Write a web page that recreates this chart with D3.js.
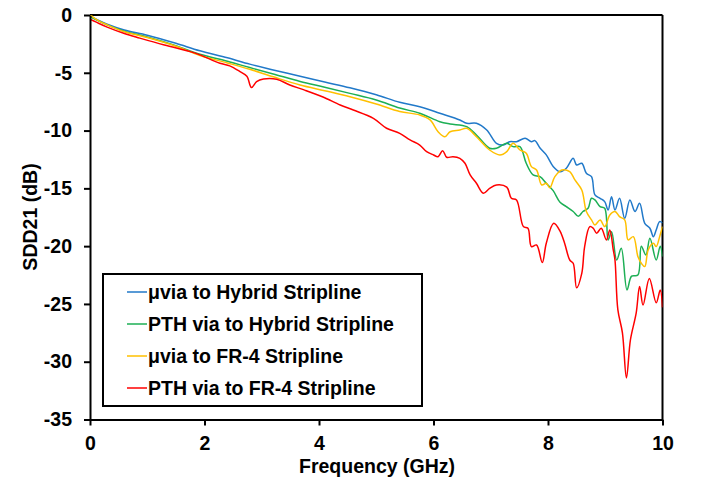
<!DOCTYPE html>
<html><head><meta charset="utf-8">
<script src="https://cdn.jsdelivr.net/npm/d3@7"></script>
<style>body{margin:0;background:#fff}svg{display:block}text{font-family:"Liberation Sans",Arial,sans-serif;font-weight:bold}</style>
</head><body><svg id="c" width="702" height="483"></svg>
<script>
const seriesNames = ["μvia to Hybrid Stripline","PTH via to Hybrid Stripline","μvia to FR-4 Stripline","PTH via to FR-4 Stripline"];
const seriesColors = ["#2179C9","#1DAF55","#FFC000","#FF0000"];
const xTicks = [0,2,4,6,8,10];
const yTicks = [0,-5,-10,-15,-20,-25,-30,-35];

const freqBlue = [0,0.1,0.3,0.6,1,1.5,1.92,2.4,2.79,3.2,3.67,4.1,4.54,5.0,5.41,5.76,6.11,6.46,6.58,6.75,6.93,7.10,7.22,7.33,7.45,7.60,7.71,7.77,7.86,7.97,8.09,8.21,8.32,8.44,8.50,8.59,8.67,8.76,8.82,8.91,8.99,9.05,9.11,9.17,9.25,9.34,9.43,9.52,9.60,9.69,9.78,9.84,9.89,9.95,10];
const sddBlue  = [-0.1,-0.35,-0.8,-1.3,-1.75,-2.45,-3.1,-3.7,-4.25,-4.75,-5.3,-5.8,-6.3,-6.9,-7.55,-7.94,-8.5,-9.08,-9.37,-9.37,-9.95,-11.1,-11.25,-10.96,-10.96,-10.67,-10.96,-10.87,-11.5,-12.1,-13.1,-13.56,-13.26,-12.4,-12.98,-12.83,-13.7,-13.99,-15.57,-15.86,-16.15,-16.87,-15.72,-16.87,-15.86,-17.59,-16.0,-17.0,-16.29,-18.02,-18.45,-19.18,-18.6,-17.88,-18.0];

const freqGreen = [0,0.1,0.3,0.6,1,1.5,1.92,2.4,2.79,3.2,3.67,4.1,4.54,5.0,5.41,5.76,6.11,6.29,6.58,6.75,6.98,7.10,7.28,7.39,7.51,7.62,7.74,7.86,7.97,8.09,8.21,8.32,8.44,8.53,8.61,8.70,8.76,8.82,8.91,8.99,9.05,9.11,9.20,9.28,9.38,9.46,9.57,9.63,9.71,9.78,9.89,9.96,10];
const sddGreen  = [-0.15,-0.4,-0.85,-1.4,-1.9,-2.65,-3.4,-4.0,-4.55,-5.1,-5.75,-6.25,-6.78,-7.35,-8.05,-8.5,-9.23,-9.43,-9.66,-10.38,-11.53,-11.53,-11.1,-11.39,-11.39,-12.83,-13.84,-13.99,-14.56,-15.2,-16.2,-16.58,-17.0,-17.42,-17.0,-16.72,-15.86,-16.0,-16.58,-16.72,-19.46,-18.75,-21.2,-20.18,-23.79,-22.6,-22.5,-20.0,-20.76,-19.32,-21.2,-20.0,-20.9];

const freqYellow = [0,0.1,0.3,0.6,1,1.5,1.92,2.4,2.79,3.2,3.67,4.1,4.54,5.0,5.41,5.76,5.94,6.08,6.20,6.29,6.46,6.58,6.75,6.98,7.16,7.28,7.39,7.51,7.62,7.71,7.80,7.89,7.97,8.03,8.12,8.24,8.38,8.47,8.59,8.67,8.76,8.82,8.91,8.99,9.08,9.17,9.25,9.34,9.40,9.49,9.57,9.63,9.69,9.75,9.84,9.89,9.95,10];
const sddYellow  = [0.05,-0.35,-0.85,-1.45,-1.95,-2.7,-3.5,-4.15,-4.7,-5.35,-6.06,-6.55,-7.07,-7.7,-8.35,-8.65,-9.08,-10.1,-10.53,-10.1,-9.95,-9.8,-10.53,-11.68,-12.11,-11.82,-11.1,-11.68,-11.96,-13.12,-13.41,-14.71,-14.56,-14.95,-13.99,-13.41,-13.56,-14.27,-15.14,-17.0,-17.73,-18.17,-17.73,-18.31,-17.3,-17.0,-17.45,-17.73,-19.46,-19.18,-20.9,-21.48,-21.77,-20.33,-19.75,-20.04,-19.18,-18.3];

const freqRed = [0,0.1,0.3,0.6,0.87,1.3,1.75,1.92,2.27,2.44,2.62,2.74,2.82,2.91,3.03,3.26,3.49,3.75,4.07,4.37,4.6,4.95,5.18,5.41,5.59,5.76,5.88,6.0,6.08,6.16,6.23,6.34,6.46,6.55,6.64,6.75,6.87,6.98,7.10,7.28,7.36,7.45,7.57,7.65,7.71,7.80,7.90,7.97,8.10,8.21,8.29,8.38,8.44,8.50,8.59,8.64,8.73,8.79,8.85,8.93,9.02,9.08,9.14,9.17,9.22,9.30,9.37,9.44,9.54,9.60,9.66,9.77,9.89,9.96,10];
const sddRed  = [-0.37,-0.6,-1.05,-1.6,-2.0,-2.6,-3.17,-3.45,-4.18,-4.4,-4.9,-5.3,-6.28,-5.77,-5.54,-5.56,-6.06,-6.5,-7.1,-7.79,-8.22,-8.94,-9.8,-10.24,-10.81,-11.25,-11.82,-12.11,-12.26,-11.74,-12.31,-12.26,-12.40,-12.83,-13.84,-14.56,-15.42,-15.0,-14.71,-14.9,-15.86,-16.0,-18.31,-18.45,-20.04,-19.9,-21.42,-19.75,-18.02,-18.7,-19.75,-21.2,-21.48,-23.6,-22.35,-20.04,-18.31,-18.45,-18.88,-18.45,-19.46,-18.6,-20.33,-21.2,-25.5,-27.5,-31.4,-28.1,-25.8,-23.5,-25.1,-22.8,-24.9,-23.8,-25.3];

const series = [[freqBlue,sddBlue],[freqGreen,sddGreen],[freqYellow,sddYellow],[freqRed,sddRed]];

const FONT = "19.5px";
const svg = d3.select("#c");
const L=90, R=662.5, T=15, B=419.5;
const x = d3.scaleLinear().domain([0,10]).range([L,R]);
const y = d3.scaleLinear().domain([-35,0]).range([B,T]);

svg.append("line").attr("x1",L).attr("x2",R).attr("y1",T).attr("y2",T).attr("stroke","#000").attr("stroke-width",2);
svg.append("line").attr("x1",R).attr("x2",R).attr("y1",T).attr("y2",B).attr("stroke","#000").attr("stroke-width",2);

svg.append("clipPath").attr("id","pc").append("rect").attr("x",L).attr("y",T).attr("width",R-L).attr("height",B-T);
const line = d3.line().curve(d3.curveCatmullRom.alpha(0.5)).x(d=>x(d[0])).y(d=>y(d[1]));
const gLines = svg.append("g").attr("clip-path","url(#pc)");
series.forEach((s,i)=>{
  const pts = s[0].map((f,j)=>[f,s[1][j]]);
  gLines.append("path").datum(pts).attr("d",line).attr("fill","none").attr("stroke",seriesColors[i]).attr("stroke-width",1.5);
});

const xAxis = svg.append("g").attr("transform",`translate(0,${B})`).call(d3.axisBottom(x).tickValues(xTicks).tickSize(6).tickSizeOuter(0).tickPadding(11).tickFormat(d3.format("d")));
const yAxis = svg.append("g").attr("transform",`translate(${L},0)`).call(d3.axisLeft(y).tickValues(yTicks).tickSize(6).tickSizeOuter(0).tickPadding(12).tickFormat(d3.format("d")));
[xAxis,yAxis].forEach(a=>{
  a.select(".domain").attr("stroke","#000").attr("stroke-width",2);
  a.selectAll(".tick line").attr("stroke","#000").attr("stroke-width",2);
  a.selectAll("text").attr("fill","#000").style("font-size",FONT).style("font-family","'Liberation Sans',Arial,sans-serif").style("font-weight","bold");
});
yAxis.selectAll("text").text(d=>d<0?"-"+Math.abs(d):d);

svg.append("text").attr("x",377).attr("y",473).attr("text-anchor","middle").style("font-size",FONT).text("Frequency (GHz)");
svg.append("text").attr("transform","translate(37,217) rotate(-90)").attr("text-anchor","middle").style("font-size",FONT).text("SDD21 (dB)");

const lg = svg.append("g");
lg.append("rect").attr("x",103).attr("y",274).attr("width",319).attr("height",132).attr("fill","#fff").attr("stroke","#000").attr("stroke-width",2);
seriesNames.forEach((n,i)=>{
  const yy = 292 + i*32;
  lg.append("line").attr("x1",127).attr("x2",147).attr("y1",yy).attr("y2",yy).attr("stroke",seriesColors[i]).attr("stroke-width",1.5);
  lg.append("text").attr("x",148).attr("y",yy+7).style("font-size",FONT).text(n);
});
</script></body></html>
